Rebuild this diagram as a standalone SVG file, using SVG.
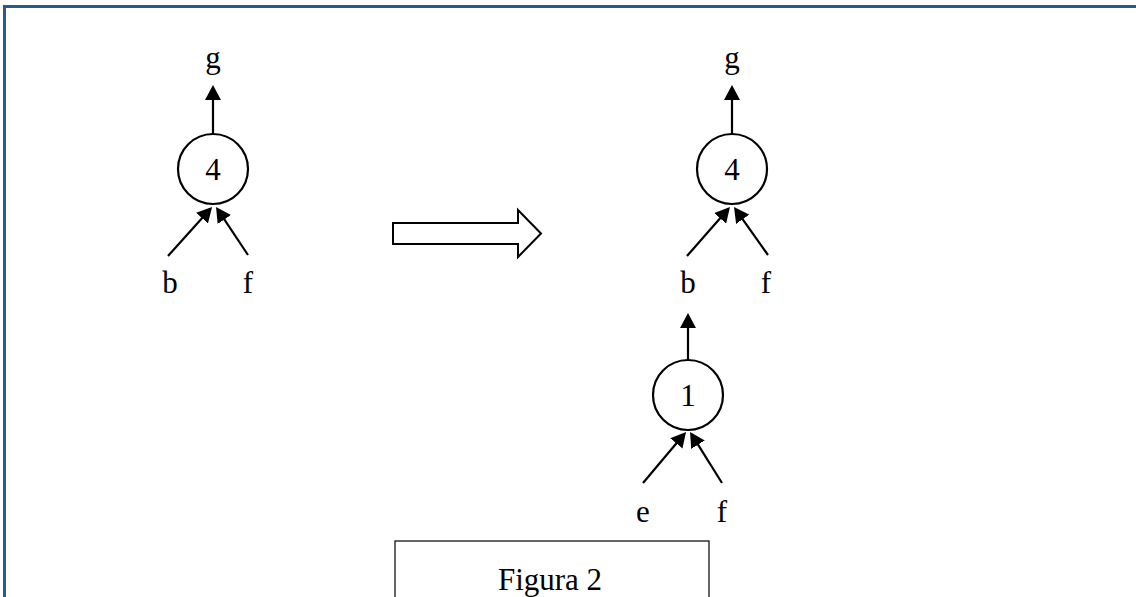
<svg xmlns="http://www.w3.org/2000/svg" width="1136" height="597" viewBox="0 0 1136 597">
<style>
.t{font-family:"Liberation Serif","Times New Roman",serif;font-size:31px;fill:#000;text-anchor:middle}
.c{fill:#fff;stroke:#000;stroke-width:2.2}
.e{stroke:#000;stroke-width:2.2;fill:none;marker-end:url(#ah)}
</style>
<defs>
<marker id="ah" markerUnits="userSpaceOnUse" markerWidth="16" markerHeight="16" refX="10" refY="8" orient="auto" viewBox="0 0 16 16">
<path d="M0,0 L15,8 L0,16 z" fill="#000"/>
</marker>
</defs>
<rect width="1136" height="597" fill="#fff"/>
<g id="border" fill="#2b5989">
<rect x="3" y="5" width="1133" height="3"/>
<rect x="3" y="5" width="3" height="592"/>
</g>
<g id="connectors">
<line class="e" x1="213" y1="134" x2="213" y2="90"/>
<line class="e" x1="168" y1="256" x2="208.7" y2="210.7"/>
<line class="e" x1="248" y1="255" x2="218.8" y2="211.2"/>
<line class="e" x1="732" y1="134" x2="732" y2="90"/>
<line class="e" x1="687" y1="256" x2="726.7" y2="210.8"/>
<line class="e" x1="768" y1="255" x2="736.9" y2="211.1"/>
<line class="e" x1="688" y1="360" x2="688" y2="318"/>
<line class="e" x1="643" y1="483" x2="682.8" y2="435.8"/>
<line class="e" x1="722" y1="483" x2="692.7" y2="436.2"/>
</g>
<g id="node-left-4">
<circle class="c" cx="213" cy="169" r="35"/>
<text class="t" x="213" y="180">4</text>
</g>
<g id="label-left-g"><text class="t" x="213" y="68">g</text></g>
<g id="label-left-b"><text class="t" x="170" y="293">b</text></g>
<g id="label-left-f"><text class="t" x="248" y="293">f</text></g>
<g id="node-right-4">
<circle class="c" cx="732" cy="169" r="35"/>
<text class="t" x="732" y="180">4</text>
</g>
<g id="label-right-g"><text class="t" x="732" y="68">g</text></g>
<g id="label-right-b"><text class="t" x="688" y="293">b</text></g>
<g id="label-right-f"><text class="t" x="766" y="293">f</text></g>
<g id="node-1">
<circle class="c" cx="688" cy="395" r="35"/>
<text class="t" x="688" y="406">1</text>
</g>
<g id="label-e"><text class="t" x="643" y="522">e</text></g>
<g id="label-f2"><text class="t" x="722" y="522">f</text></g>
<g id="transform-arrow">
<path d="M393,223 L518,223 L518,210 L541,233.5 L518,257 L518,244 L393,244 z" fill="#fff" stroke="#000" stroke-width="2" stroke-linejoin="miter"/>
</g>
<g id="caption">
<rect x="395" y="541" width="314" height="70" fill="#fff" stroke="#000" stroke-width="1.2"/>
<text class="t" x="550" y="590">Figura 2</text>
</g>
</svg>
